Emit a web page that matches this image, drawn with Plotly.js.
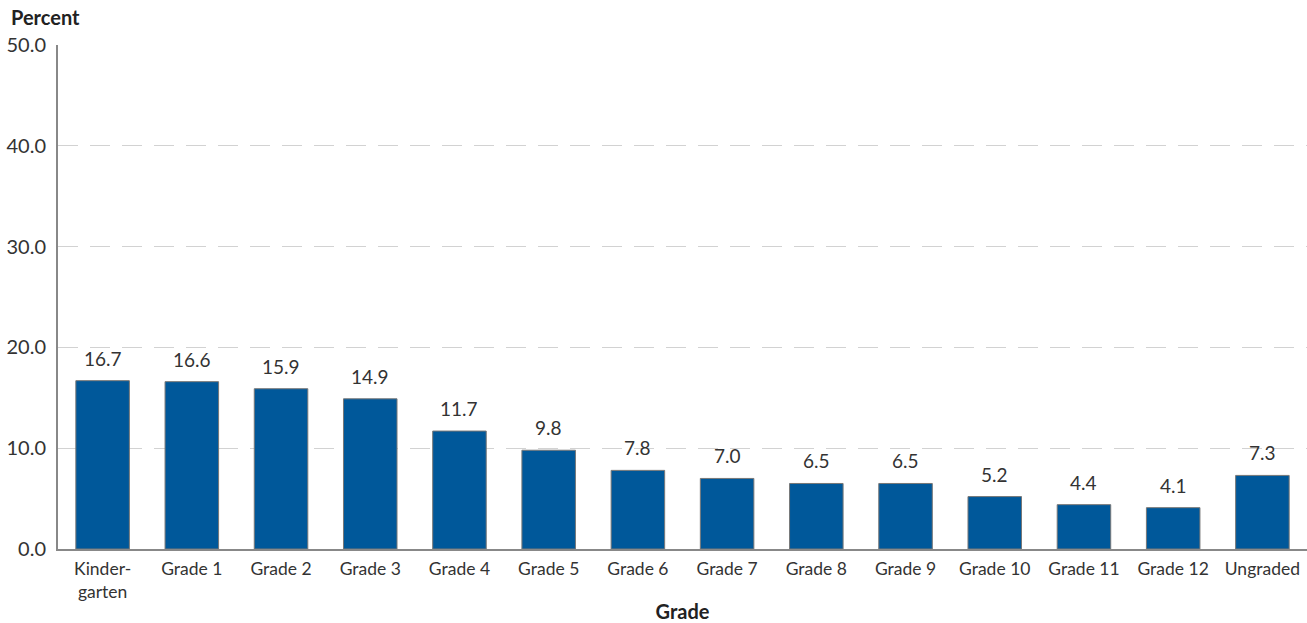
<!DOCTYPE html>
<html><head><meta charset="utf-8">
<script src="https://cdn.plot.ly/plotly-3.0.1.min.js"></script>
<style>html,body{margin:0;padding:0;background:#fff}#c{width:1307px;height:623px}</style>
</head><body><div id="c"></div>
<script>
const categories = ["Kindergarten","Grade 1","Grade 2","Grade 3","Grade 4","Grade 5","Grade 6","Grade 7","Grade 8","Grade 9","Grade 10","Grade 11","Grade 12","Ungraded"];
const tickLabels = ["Kinder-<br>garten","Grade 1","Grade 2","Grade 3","Grade 4","Grade 5","Grade 6","Grade 7","Grade 8","Grade 9","Grade 10","Grade 11","Grade 12","Ungraded"];
const values = [16.7,16.6,15.9,14.9,11.7,9.8,7.8,7.0,6.5,6.5,5.2,4.4,4.1,7.3];
const yTicks = [0,10,20,30,40,50];

const font = "Lato, 'Noto Sans', sans-serif";
const labelAnns = categories.map((c, i) => ({
  x: c, y: values[i], xref: 'x', yref: 'y', text: values[i].toFixed(1),
  showarrow: false, yanchor: 'bottom', yshift: 9,
  font: {size: 19, color: '#333', family: font}
}));
Plotly.newPlot('c', [{
  type: 'bar', x: categories, y: values,
  marker: {color: '#00589A', line: {color: '#777', width: 1}},
  hoverinfo: 'none'
}], {
  width: 1307, height: 623,
  margin: {l: 58, r: 0, t: 45, b: 74},
  paper_bgcolor: '#fff', plot_bgcolor: '#fff',
  bargap: 0.4, showlegend: false,
  font: {family: font, color: '#333', size: 17},
  xaxis: {tickvals: categories, ticktext: tickLabels, showline: true, linecolor: '#888', linewidth: 2,
    ticks: '', tickfont: {size: 17.5, color: '#333'}, ticklabelstandoff: 3,
    title: {text: '<b>Grade</b>', font: {size: 20, color: '#222'}, standoff: 8}},
  yaxis: {range: [0, 50], tickvals: yTicks, ticktext: yTicks.map(v => v.toFixed(1)),
    showline: true, linecolor: '#888', linewidth: 2, ticks: '', zeroline: false,
    gridcolor: '#d2d2d2', griddash: '20px,12px', gridwidth: 1,
    tickfont: {size: 20, color: '#333'}, ticklabelstandoff: 6},
  annotations: labelAnns.concat([{text: '<b>Percent</b>', xref: 'paper', yref: 'paper', x: 0, y: 1, xshift: -49, yshift: 28,
    xanchor: 'left', yanchor: 'middle', showarrow: false, font: {size: 20, color: '#222'}}])
}, {staticPlot: true});
</script></body></html>
